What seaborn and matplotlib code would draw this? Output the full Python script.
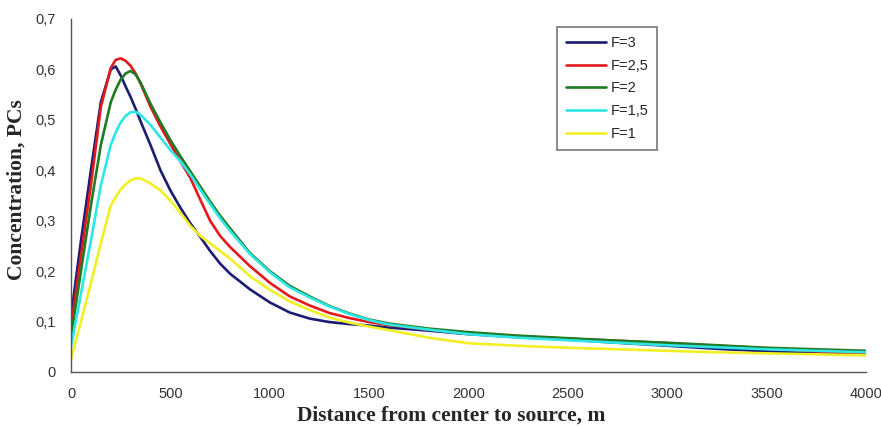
import numpy as np
import pandas as pd
import seaborn as sns
import matplotlib
matplotlib.use("Agg")
import matplotlib.pyplot as plt
from matplotlib.ticker import MultipleLocator, FuncFormatter
from matplotlib.lines import Line2D

distance = [0, 50, 100, 150, 200, 225, 250, 275, 300, 325, 350, 400, 450, 500, 550, 600,
            650, 700, 750, 800, 900, 1000, 1100, 1200, 1300, 1400, 1500, 1600, 1800, 2000,
            2250, 2500, 2750, 3000, 3250, 3500, 3750, 4000]

f3 = [0.11, 0.26, 0.40, 0.535, 0.60, 0.606, 0.588, 0.566, 0.545, 0.522, 0.497, 0.45, 0.40,
      0.36, 0.326, 0.295, 0.268, 0.24, 0.215, 0.195, 0.164, 0.138, 0.118, 0.106, 0.099,
      0.095, 0.092, 0.088, 0.082, 0.075, 0.069, 0.064, 0.058, 0.052, 0.046, 0.041, 0.037,
      0.034]
f25 = [0.09, 0.23, 0.37, 0.525, 0.603, 0.619, 0.622, 0.617, 0.607, 0.592, 0.572, 0.526,
       0.487, 0.452, 0.418, 0.385, 0.342, 0.30, 0.27, 0.248, 0.21, 0.177, 0.15, 0.132,
       0.117, 0.107, 0.099, 0.093, 0.084, 0.077, 0.071, 0.066, 0.062, 0.057, 0.052, 0.047,
       0.041, 0.037]
f2 = [0.07, 0.20, 0.33, 0.45, 0.535, 0.56, 0.58, 0.592, 0.597, 0.59, 0.574, 0.532, 0.495,
      0.46, 0.428, 0.398, 0.368, 0.338, 0.31, 0.285, 0.236, 0.20, 0.171, 0.15, 0.131,
      0.116, 0.104, 0.096, 0.086, 0.079, 0.072, 0.067, 0.062, 0.058, 0.053, 0.048, 0.045,
      0.042]
f15 = [0.05, 0.155, 0.26, 0.37, 0.45, 0.475, 0.495, 0.508, 0.515, 0.516, 0.51, 0.49, 0.465,
       0.44, 0.418, 0.392, 0.362, 0.333, 0.305, 0.28, 0.234, 0.198, 0.168, 0.148, 0.13,
       0.115, 0.103, 0.094, 0.084, 0.075, 0.068, 0.063, 0.058, 0.053, 0.049, 0.045, 0.042,
       0.039]
f1 = [0.025, 0.10, 0.176, 0.255, 0.33, 0.347, 0.362, 0.372, 0.38, 0.384, 0.384, 0.374, 0.36,
      0.34, 0.316, 0.29, 0.27, 0.255, 0.24, 0.225, 0.19, 0.163, 0.14, 0.123, 0.108, 0.098,
      0.09, 0.083, 0.068, 0.057, 0.052, 0.048, 0.045, 0.042, 0.039, 0.037, 0.035, 0.033]

labels = ["F=3", "F=2,5", "F=2", "F=1,5", "F=1"]
series = [f3, f25, f2, f15, f1]
colors = ["#1c1c72", "#e3191c", "#1f7a24", "#2ee6e6", "#f0f024"]

rows = []
for lab, vals in zip(labels, series):
    for x, y in zip(distance, vals):
        rows.append({"Distance": x, "Concentration": y, "F": lab})
df = pd.DataFrame(rows)

sns.set_style("white")
plt.rcParams['font.family'] = ['Liberation Sans', 'DejaVu Sans']

fig = plt.figure(figsize=(8.81, 4.26), dpi=100)
ax = fig.add_axes([0.0806, 0.1268, 0.9024, 0.8286])

sns.lineplot(data=df, x="Distance", y="Concentration", hue="F", hue_order=labels,
             palette=dict(zip(labels, colors)), linewidth=1.9, ax=ax, legend=False)

ax.set_xlim(0, 4000)
ax.set_ylim(0, 0.7)
ax.xaxis.set_major_locator(MultipleLocator(500))
ax.xaxis.set_minor_locator(MultipleLocator(100))
ax.yaxis.set_major_locator(MultipleLocator(0.1))
ax.yaxis.set_major_formatter(FuncFormatter(
    lambda v, p: "0" if abs(v) < 1e-9 else f"{v:.1f}".replace(".", ",")))

for s in ["top", "right"]:
    ax.spines[s].set_visible(False)
for s in ["left", "bottom"]:
    ax.spines[s].set_color("#555555")
    ax.spines[s].set_linewidth(1.0)

ax.tick_params(axis="both", which="both", direction="inout", length=8, width=1,
               color="#555555", labelsize=10.5, labelcolor="#333333")
ax.tick_params(axis="x", which="major", pad=7)
ax.tick_params(axis="y", which="major", pad=7)

ax.set_xlabel("Distance from center to source, m", fontfamily="Liberation Serif",
              fontweight="bold", fontsize=15.5, labelpad=3)
ax.set_ylabel("Concentration, PCs", fontfamily="Liberation Serif",
              fontweight="bold", fontsize=15.5, labelpad=6)
ax.xaxis.label.set_x(0.478)
ax.yaxis.label.set_y(0.516)

handles = [Line2D([0], [0], color=c, lw=1.9) for c in colors]
leg = ax.legend(handles, labels, loc="upper left", bbox_to_anchor=(0.611, 0.977),
                frameon=True, fancybox=False, edgecolor="#555555", fontsize=10.5,
                handlelength=2.8, handletextpad=0.3, labelspacing=0.6,
                borderpad=0.6, borderaxespad=0)
leg.get_frame().set_linewidth(1.2)

fig.savefig("out.png", dpi=100)
